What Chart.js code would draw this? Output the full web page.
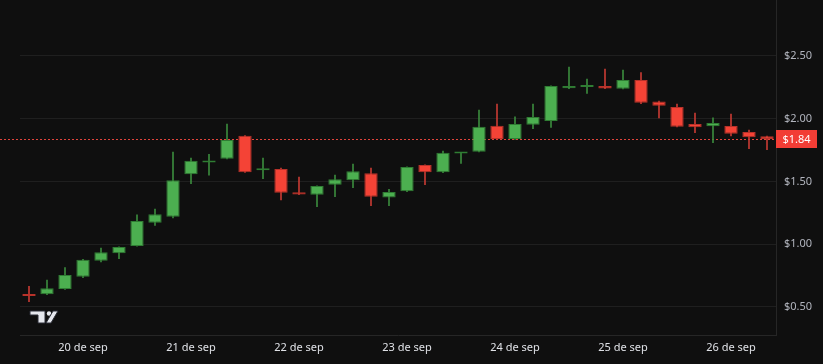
<!DOCTYPE html>
<html>
<head>
<meta charset="utf-8">
<script src="https://cdn.jsdelivr.net/npm/chart.js@4.4.1/dist/chart.umd.min.js"></script>
<style>
  html, body { margin: 0; padding: 0; background: #0f0f0f; }
  #wrap { width: 823px; height: 364px; }
</style>
</head>
<body>
<div id="wrap"><canvas id="chart"></canvas></div>
<script>
// 4h candles, 19 sep 12:00 -> 26 sep 20:00
const DAY_LABELS = ["20 de sep", "21 de sep", "22 de sep", "23 de sep", "24 de sep", "25 de sep", "26 de sep"];
const FIRST_DAY_INDEX = 3;
const CANDLES_PER_DAY = 6;

const OPEN = [0.595, 0.601, 0.643, 0.741, 0.869, 0.928, 0.986, 1.171, 1.219, 1.557, 1.652, 1.681,
  1.865, 1.59, 1.599, 1.415, 1.395, 1.474, 1.509, 1.566, 1.372, 1.421, 1.631, 1.573,
  1.722, 1.737, 1.944, 1.838, 1.952, 1.982, 2.242, 2.252, 2.261, 2.239, 2.308, 2.138,
  2.093, 1.958, 1.939, 1.942, 1.894, 1.860];
const HIGH = [0.665, 0.715, 0.813, 0.880, 0.970, 0.980, 1.235, 1.28, 1.735, 1.687, 1.716, 1.958,
  1.866, 1.687, 1.607, 1.535, 1.466, 1.551, 1.639, 1.607, 1.437, 1.617, 1.633, 1.743,
  1.732, 2.069, 2.117, 2.016, 2.117, 2.263, 2.412, 2.316, 2.396, 2.388, 2.367, 2.140,
  2.117, 2.045, 2.008, 2.037, 1.910, 1.862];
const LOW = [0.542, 0.598, 0.640, 0.733, 0.858, 0.885, 0.984, 1.150, 1.21, 1.482, 1.551, 1.679,
  1.572, 1.522, 1.352, 1.395, 1.30, 1.378, 1.450, 1.307, 1.307, 1.419, 1.474, 1.571,
  1.644, 1.735, 1.836, 1.836, 1.920, 1.931, 2.240, 2.202, 2.239, 2.237, 2.120, 2.006,
  1.934, 1.889, 1.809, 1.862, 1.761, 1.753];
const CLOSE = [0.588, 0.649, 0.755, 0.877, 0.935, 0.978, 1.185, 1.238, 1.509, 1.665, 1.662, 1.830,
  1.573, 1.60, 1.410, 1.397, 1.464, 1.517, 1.581, 1.378, 1.416, 1.615, 1.573, 1.729,
  1.730, 1.936, 1.838, 1.958, 2.013, 2.261, 2.261, 2.262, 2.241, 2.308, 2.128, 2.104,
  1.936, 1.931, 1.966, 1.880, 1.852, 1.838];

const Y_TICKS = [0.5, 1.0, 1.5, 2.0, 2.5];
const LAST_PRICE = 1.84;

const UP = "#4caf50", UP_BORDER = "#2f7d33", UP_WICK = "#3a8a3d";
const DOWN = "#f44336", DOWN_BORDER = "#b8322a", DOWN_WICK = "#c43a33";

const labels = OPEN.map((_, i) => {
  const k = i - FIRST_DAY_INDEX;
  return k >= 0 && k % CANDLES_PER_DAY === 0 ? DAY_LABELS[k / CANDLES_PER_DAY] : "";
});
const isUp = OPEN.map((o, i) => CLOSE[i] >= o);

const priceLine = {
  id: "priceLine",
  beforeDatasetsDraw(chart) {
    const { ctx, chartArea } = chart;
    const y = Math.round(chart.scales.y.getPixelForValue(LAST_PRICE)) + 0.5;
    ctx.save();
    ctx.strokeStyle = "#e0443c";
    ctx.lineWidth = 1;
    ctx.setLineDash([2, 2]);
    ctx.beginPath();
    ctx.moveTo(0, y);
    ctx.lineTo(chartArea.right, y);
    ctx.stroke();
    ctx.restore();
  },
  afterDraw(chart) {
    const { ctx, chartArea } = chart;
    const y = chart.scales.y.getPixelForValue(LAST_PRICE);
    ctx.save();
    ctx.fillStyle = "#f23d35";
    ctx.fillRect(chartArea.right, Math.round(y) - 9, 41, 18);
    ctx.fillStyle = "#ffffff";
    ctx.font = "11px 'Noto Sans'";
    ctx.textAlign = "center";
    ctx.textBaseline = "middle";
    ctx.fillText("$" + LAST_PRICE.toFixed(2), chartArea.right + 20.5, Math.round(y) + 0.5);

    // TradingView mark
    ctx.fillStyle = "#e6e8ee";
    ctx.strokeStyle = "#2a2d36";
    ctx.lineWidth = 1;
    ctx.beginPath();
    ctx.moveTo(30, 311); ctx.lineTo(45, 311); ctx.lineTo(45, 323); ctx.lineTo(38, 323);
    ctx.lineTo(38, 315); ctx.lineTo(30, 315); ctx.closePath();
    ctx.fill(); ctx.stroke();
    ctx.beginPath();
    ctx.arc(49, 313.5, 2.2, 0, Math.PI * 2);
    ctx.fill();
    ctx.beginPath();
    ctx.moveTo(53, 311); ctx.lineTo(58, 311); ctx.lineTo(51, 323); ctx.lineTo(46, 323); ctx.closePath();
    ctx.fill(); ctx.stroke();
    ctx.restore();
  },
};

new Chart(document.getElementById("chart"), {
  type: "bar",
  data: {
    labels,
    datasets: [
      {
        label: "body",
        data: OPEN.map((o, i) => [o, CLOSE[i]]),
        backgroundColor: isUp.map((u) => (u ? UP : DOWN)),
        borderColor: isUp.map((u) => (u ? UP_BORDER : DOWN_BORDER)),
        borderWidth: 1,
        borderSkipped: false,
        barPercentage: 0.74,
        categoryPercentage: 1,
        minBarLength: 2,
        grouped: false,
      },
      {
        label: "wick",
        data: LOW.map((l, i) => [l, HIGH[i]]),
        backgroundColor: isUp.map((u) => (u ? UP_WICK : DOWN_WICK)),
        barThickness: 1,
        grouped: false,
      },
    ],
  },
  options: {
    responsive: true,
    maintainAspectRatio: false,
    animation: false,
    layout: { padding: { left: 20, top: 0, right: 0, bottom: 0 } },
    plugins: { legend: { display: false }, tooltip: { enabled: false } },
    scales: {
      x: {
        grid: { display: false, drawTicks: false },
        border: { color: "#262626" },
        ticks: {
          autoSkip: false,
          maxRotation: 0,
          color: "#dfe1e6",
          font: { family: "'Noto Sans'", size: 11 },
          padding: 6,
        },
        afterFit(scale) {
          scale.height = 29;
          scale.paddingLeft = 0;
          scale.paddingRight = 0;
        },
      },
      y: {
        position: "right",
        min: 0.2765,
        max: 2.946,
        afterBuildTicks(scale) { scale.ticks = Y_TICKS.map((v) => ({ value: v })); },
        grid: { color: "#1f1f1f", drawTicks: false },
        border: { color: "#262626" },
        ticks: {
          color: "#b2b5be",
          font: { family: "'Noto Sans'", size: 11 },
          padding: 8,
          callback: (v) => "$" + Number(v).toFixed(2),
        },
        afterFit(scale) {
          scale.width = 47;
          scale.paddingTop = 0;
          scale.paddingBottom = 0;
        },
      },
    },
  },
  plugins: [priceLine],
});
</script>
</body>
</html>
